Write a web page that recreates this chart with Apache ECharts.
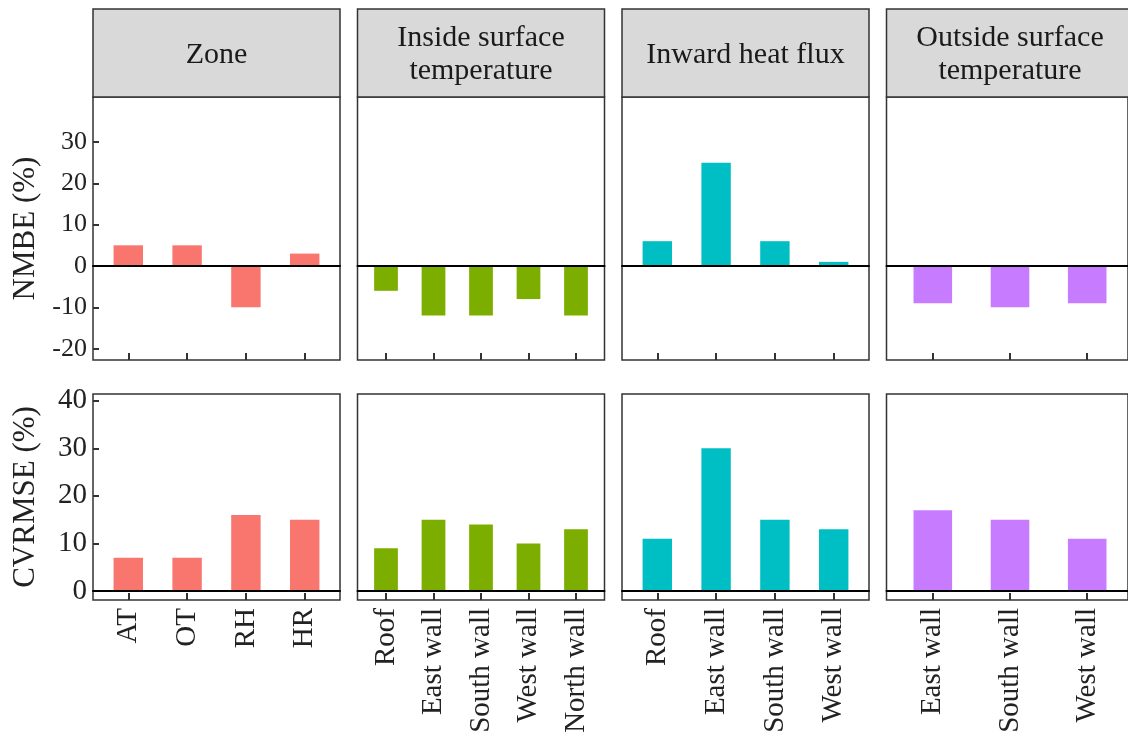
<!DOCTYPE html>
<html>
<head>
<meta charset="utf-8">
<script src="https://cdn.jsdelivr.net/npm/echarts@6/dist/echarts.min.js"></script>
<style>
html,body{margin:0;padding:0;background:#fff;}
#chart{width:1128px;height:747px;}
</style>
</head>
<body>
<div id="chart"></div>
<script>
// ---------------- data ----------------
const panelTitles = ['Zone', 'Inside surface\ntemperature', 'Inward heat flux', 'Outside surface\ntemperature'];
const catZone    = ['AT', 'OT', 'RH', 'HR'];
const catInside  = ['Roof', 'East wall', 'South wall', 'West wall', 'North wall'];
const catFlux    = ['Roof', 'East wall', 'South wall', 'West wall'];
const catOutside = ['East wall', 'South wall', 'West wall'];

const nmbeZone    = [5, 5, -10, 3];
const nmbeInside  = [-6, -12, -12, -8, -12];
const nmbeFlux    = [6, 25, 6, 1];
const nmbeOutside = [-9, -10, -9];

const cvZone    = [7, 7, 16, 15];
const cvInside  = [9, 15, 14, 10, 13];
const cvFlux    = [11, 30, 15, 13];
const cvOutside = [17, 15, 11];

const nmbeTicks = [-20, -10, 0, 10, 20, 30];
const cvTicks   = [0, 10, 20, 30, 40];
const rowNames  = ['NMBE (%)', 'CVRMSE (%)'];
const colors    = ['#F8766D', '#7CAE00', '#00BFC4', '#C77CFF'];

// ---------------- layout ----------------
const FONT = "'Liberation Serif', 'DejaVu Serif', serif";
const panelLeft0 = 93, panelStep = 264.5, panelW = 247;
const headerTop = 9, headerBottom = 97;
const rows = [
  {top: 97,  height: 263, min: -22.74, max: 40.88, ticks: nmbeTicks, labelSize: 26},
  {top: 394, height: 206, min: -1.89,  max: 41.41, ticks: cvTicks,   labelSize: 29}
];
const cats = [catZone, catInside, catFlux, catOutside];
const vals = [[nmbeZone, nmbeInside, nmbeFlux, nmbeOutside], [cvZone, cvInside, cvFlux, cvOutside]];

const grid = [], xAxis = [], yAxis = [], series = [], graphic = [];

for (let p = 0; p < 4; p++) {
  const left = panelLeft0 + p * panelStep;
  // header strip
  graphic.push({
    type: 'rect', shape: {x: left, y: headerTop, width: panelW, height: headerBottom - headerTop},
    style: {fill: '#d9d9d9', stroke: '#333', lineWidth: 1.5}, z: 10
  });
  graphic.push({
    type: 'text', x: left + panelW / 2, y: (headerTop + headerBottom) / 2 + 2,
    style: {text: panelTitles[p], textAlign: 'center', textVerticalAlign: 'middle',
            font: '30px ' + FONT, lineHeight: 33, fill: '#1a1a1a'}, z: 11
  });
}

for (let r = 0; r < 2; r++) {
  const row = rows[r];
  for (let p = 0; p < 4; p++) {
    const left = panelLeft0 + p * panelStep;
    const n = cats[p].length;
    const unit = panelW / (n + 0.2);
    // outer grid: frame, zero line, y-axis
    const gOuter = grid.length;
    grid.push({left: left, top: row.top, width: panelW, height: row.height,
               show: true, borderColor: '#333', borderWidth: 1.5, backgroundColor: 'transparent'});
    xAxis.push({gridIndex: gOuter, type: 'value', min: 0, max: 1, z: 5,
      axisLine: {show: true, onZero: true, lineStyle: {color: '#000', width: 2}},
      axisTick: {show: false}, axisLabel: {show: false}, splitLine: {show: false}});
    const first = p === 0;
    yAxis.push({gridIndex: gOuter, type: 'value', min: row.min, max: row.max,
      axisLine: {show: false}, splitLine: {show: false},
      axisTick: first ? {show: true, inside: true, length: 6, customValues: row.ticks,
                         lineStyle: {color: '#333', width: 2}} : {show: false},
      axisLabel: first ? {show: true, customValues: row.ticks, fontSize: row.labelSize, fontFamily: FONT,
                          color: '#222', margin: 6} : {show: false},
      name: first ? rowNames[r] : '', nameLocation: 'middle', nameGap: 52,
      nameTextStyle: {fontSize: 31, fontFamily: FONT, color: '#222'}
    });
    // inner grid: categories + bars
    const gInner = grid.length;
    grid.push({left: left + 0.1 * unit, top: row.top, width: n * unit, height: row.height});
    xAxis.push({gridIndex: gInner, type: 'category', data: cats[p],
      axisLine: {show: false, onZero: false},
      axisTick: {show: true, inside: true, alignWithLabel: true, interval: 0, length: 7,
                 lineStyle: {color: '#333', width: 2}},
      axisLabel: r === 1 ? {show: true, rotate: 90, fontSize: 29, fontFamily: FONT, color: '#222', margin: 8, interval: 0}
                         : {show: false, interval: 0}
    });
    yAxis.push({gridIndex: gInner, type: 'value', min: row.min, max: row.max, show: false});
    series.push({type: 'bar', xAxisIndex: xAxis.length - 1, yAxisIndex: yAxis.length - 1,
      data: vals[r][p], barWidth: '50%', itemStyle: {color: colors[p]}, silent: true, animation: false});
  }
}

const chart = echarts.init(document.getElementById('chart'), null, {renderer: 'canvas'});
chart.setOption({animation: false, backgroundColor: '#fff', grid, xAxis, yAxis, series, graphic});
</script>
</body>
</html>
